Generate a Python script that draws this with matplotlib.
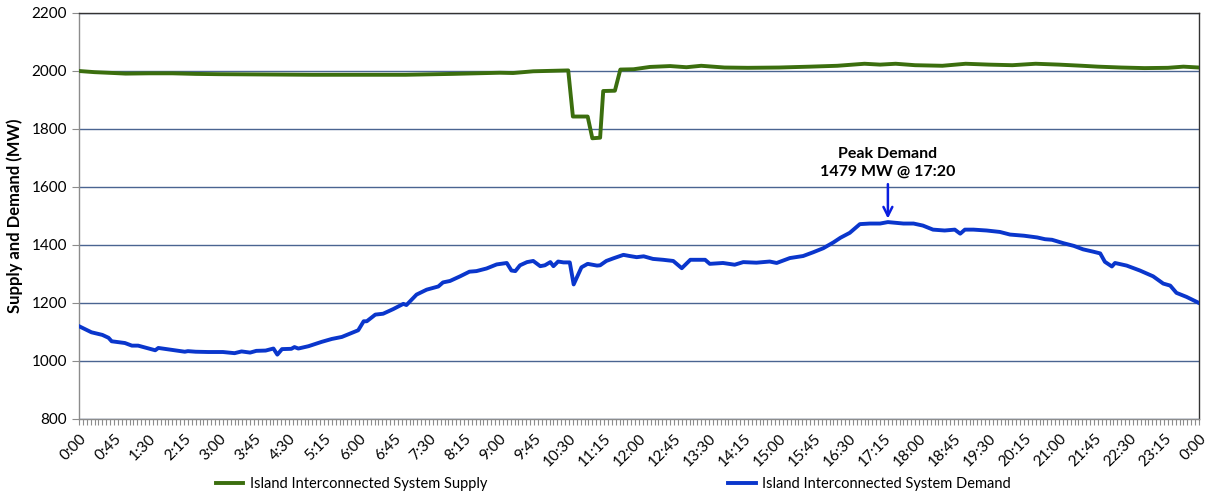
import matplotlib
matplotlib.use("Agg")
import matplotlib.pyplot as plt
from matplotlib.ticker import FixedLocator, MultipleLocator

plt.rcParams['font.family'] = ['Lato', 'DejaVu Sans']

# Demand (minutes after midnight, MW)
demand_min = [0, 16, 30, 38, 42, 59, 68, 76, 90, 98, 102, 123, 136, 140, 150, 166, 185, 200, 209, 220,
              228, 240, 250, 255, 261, 273, 277, 282, 295, 312, 325, 338, 351, 359, 366, 370, 381, 391,
              404, 417, 421, 434, 447, 462, 468, 477, 490, 502, 511, 524, 537, 550, 556, 561, 567, 576,
              584, 593, 599, 606, 610, 616, 623, 631, 636, 646, 654, 666, 670, 678, 687, 700, 708, 717,
              726, 738, 751, 764, 775, 786, 805, 811, 828, 843, 854, 871, 888, 897, 914, 931, 944, 957,
              970, 979, 991, 1004, 1017, 1030, 1040, 1060, 1073, 1085, 1098, 1113, 1126, 1133, 1139,
              1150, 1167, 1184, 1197, 1215, 1232, 1242, 1251, 1266, 1279, 1291, 1304, 1313, 1319, 1328,
              1332, 1347, 1364, 1381, 1394, 1403, 1411, 1424, 1440]
demand_mw = [1120, 1099, 1090, 1080, 1068, 1062, 1053, 1053, 1043, 1037, 1045, 1037, 1032, 1034, 1032,
             1031, 1031, 1027, 1033, 1029, 1035, 1036, 1043, 1022, 1041, 1042, 1048, 1043, 1051, 1066,
             1076, 1083, 1097, 1106, 1137, 1137, 1160, 1163, 1179, 1197, 1193, 1229, 1246, 1257, 1271,
             1276, 1292, 1308, 1310, 1319, 1333, 1338, 1312, 1310, 1330, 1341, 1345, 1327, 1330, 1341,
             1327, 1343, 1340, 1340, 1264, 1323, 1335, 1329, 1330, 1345, 1354, 1366, 1362, 1358, 1361,
             1352, 1349, 1345, 1320, 1349, 1349, 1335, 1338, 1332, 1341, 1339, 1343, 1338, 1355, 1362,
             1375, 1389, 1409, 1425, 1442, 1472, 1474, 1474, 1479, 1474, 1474, 1467, 1453, 1450, 1453,
             1439, 1453, 1453, 1450, 1445, 1436, 1432, 1426, 1420, 1418, 1406, 1397, 1385, 1377, 1371,
             1342, 1326, 1338, 1329, 1312, 1292, 1267, 1260, 1235, 1221, 1200]

# Supply (minutes after midnight, MW)
supply_min = [0, 20, 45, 60, 90, 120, 150, 180, 240, 300, 360, 420, 480, 541, 558, 584, 629, 635, 654,
              660, 670, 674, 689, 696, 713, 734, 760, 781, 800, 830, 860, 900, 940, 975, 1010, 1030,
              1050, 1075, 1110, 1140, 1170, 1200, 1230, 1260, 1290, 1310, 1340, 1370, 1400, 1420, 1440]
supply_mw = [2000, 1996, 1993, 1991, 1992, 1992, 1990, 1989, 1988, 1987, 1987, 1987, 1990, 1994, 1993,
             1999, 2002, 1843, 1843, 1768, 1770, 1931, 1932, 2005, 2006, 2014, 2017, 2013, 2018, 2012,
             2011, 2012, 2015, 2018, 2025, 2022, 2025, 2020, 2018, 2025, 2022, 2020, 2025, 2022, 2018,
             2015, 2012, 2010, 2011, 2015, 2012]

tick_minutes = list(range(0, 1441, 45))
tick_labels = ["%d:%02d" % ((m // 60) % 24, m % 60) for m in tick_minutes]

peak_min = 1040
peak_mw = 1479
peak_text = "Peak Demand\n1479 MW @ 17:20"

fig = plt.figure(figsize=(12.09, 4.96), dpi=100)
ax = fig.add_axes([79 / 1209, 1 - 419 / 496, 1120 / 1209, 406 / 496])

supply_color = "#3B6E0E"
demand_color = "#0A36CC"

ax.plot(supply_min, supply_mw, color=supply_color, lw=2.8, solid_joinstyle="round",
        label="Island Interconnected System Supply", zorder=3)
ax.plot(demand_min, demand_mw, color=demand_color, lw=2.8, solid_joinstyle="round",
        label="Island Interconnected System Demand", zorder=3)

ax.set_xlim(0, 1440)
ax.set_ylim(800, 2200)
ax.yaxis.set_major_locator(MultipleLocator(200))
ax.grid(axis="y", color="#4A6491", lw=1.0)
ax.set_axisbelow(True)

ax.xaxis.set_major_locator(FixedLocator(tick_minutes))
ax.set_xticklabels(tick_labels, rotation=45, ha="right", rotation_mode="anchor", fontsize=11)
ax.xaxis.set_minor_locator(MultipleLocator(5))
ax.tick_params(axis="x", which="both", direction="out", length=4, width=0.8, color="#8C8C8C", pad=5)
ax.tick_params(axis="y", length=5, width=0.8, color="#8C8C8C", labelsize=11)

for s in ["left", "bottom"]:
    ax.spines[s].set_color("#8C8C8C")
    ax.spines[s].set_linewidth(1.0)
for s in ["top", "right"]:
    ax.spines[s].set_color("#333333")
    ax.spines[s].set_linewidth(1.0)

ax.set_ylabel("Supply and Demand (MW)", fontsize=12, fontweight="bold", labelpad=6)

ax.annotate(peak_text, xy=(peak_min, peak_mw + 12), xytext=(peak_min, peak_mw + 150),
            ha="center", va="bottom", fontsize=11.5, fontweight="bold", linespacing=1.3,
            arrowprops=dict(arrowstyle="->", color="#0A1EE0", lw=1.8, mutation_scale=16,
                            shrinkA=2, shrinkB=0))

leg = ax.legend(loc="center", bbox_to_anchor=(0.477, -0.16), ncol=2, frameon=False,
                fontsize=10.5, columnspacing=16.5, handlelength=1.9, handletextpad=0.45,
                borderaxespad=0, borderpad=0)

fig.savefig("out.png", dpi=100)
